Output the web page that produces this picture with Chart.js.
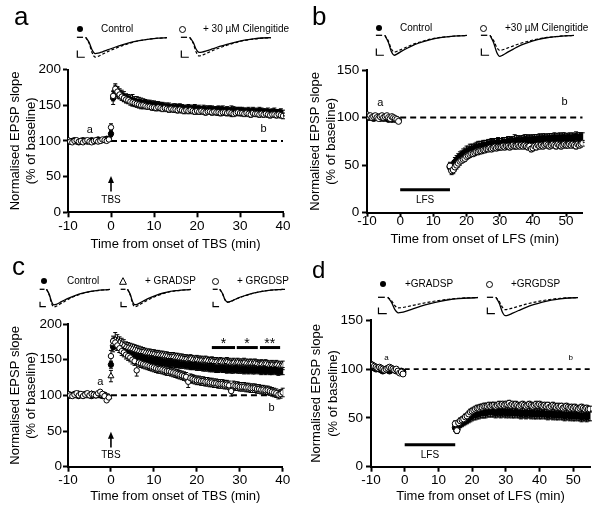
<!DOCTYPE html>
<html>
<head>
<meta charset="utf-8">
<script src="https://cdn.jsdelivr.net/npm/chart.js@4.4.0/dist/chart.umd.min.js"></script>
<style>
  body { margin: 0; background: #fff; }
  #fig { position: relative; width: 600px; height: 511px; overflow: hidden; background: #fff; font-family: "Liberation Sans", Arial, sans-serif; color: #000; }
  #fig canvas { position: absolute; }
  .t { position: absolute; white-space: nowrap; font-size: 10px; line-height: 10px; }
  .big { position: absolute; font-size: 26px; line-height: 26px; }
  .dot { position: absolute; width: 6px; height: 6px; border-radius: 50%; background: #000; }
  .ring { position: absolute; width: 5px; height: 5px; border-radius: 50%; border: 1px solid #000; background: #fff; }
</style>
</head>
<body>
<div id="fig">
  <canvas id="cA" width="300" height="255" style="left:0;top:0"></canvas>
  <canvas id="cB" width="300" height="255" style="left:300px;top:0"></canvas>
  <canvas id="cC" width="300" height="256" style="left:0;top:255px"></canvas>
  <canvas id="cD" width="300" height="256" style="left:300px;top:255px"></canvas>

  <canvas id="trA1" width="91" height="30" style="left:76px;top:31.5px"></canvas>
  <canvas id="trA2" width="91" height="30" style="left:180px;top:31.5px"></canvas>
  <canvas id="trB1" width="92" height="30" style="left:375px;top:30px"></canvas>
  <canvas id="trB2" width="94" height="30" style="left:480px;top:30px"></canvas>
  <canvas id="trC1" width="71" height="30" style="left:38.6px;top:284px"></canvas>
  <canvas id="trC2" width="71" height="30" style="left:120.3px;top:284px"></canvas>
  <canvas id="trC3" width="73" height="30" style="left:211.6px;top:284px"></canvas>
  <canvas id="trD1" width="101" height="30" style="left:377px;top:292.4px"></canvas>
  <canvas id="trD2" width="92" height="30" style="left:485.8px;top:292.4px"></canvas>

  <div class="big" style="left:14px;top:3px">a</div>
  <div class="big" style="left:312px;top:3px">b</div>
  <div class="big" style="left:12px;top:253px">c</div>
  <div class="big" style="left:312px;top:258px;font-size:24px;line-height:24px">d</div>

  <div class="dot" style="left:77px;top:25.5px"></div>
  <div class="t" style="left:101px;top:23.6px">Control</div>
  <div class="ring" style="left:178.7px;top:25.5px"></div>
  <div class="t" style="left:203px;top:23.6px">+ 30 µM Cilengitide</div>

  <div class="dot" style="left:376.3px;top:25.3px"></div>
  <div class="t" style="left:400px;top:23.4px">Control</div>
  <div class="ring" style="left:479.7px;top:25.3px"></div>
  <div class="t" style="left:505px;top:23.4px">+30 µM Cilengitide</div>

  <div class="dot" style="left:41.3px;top:277.7px"></div>
  <div class="t" style="left:67px;top:275.8px">Control</div>
  <svg style="position:absolute;left:118.7px;top:276.7px" width="8" height="8"><polygon points="4,0.7 7.4,7.3 0.6,7.3" fill="#fff" stroke="#000" stroke-width="1"/></svg>
  <div class="t" style="left:145px;top:275.8px">+ GRADSP</div>
  <div class="ring" style="left:212px;top:277.7px"></div>
  <div class="t" style="left:237px;top:275.8px">+ GRGDSP</div>

  <div class="dot" style="left:380.3px;top:281.3px"></div>
  <div class="t" style="left:405px;top:279.4px">+GRADSP</div>
  <div class="ring" style="left:486.3px;top:281.3px"></div>
  <div class="t" style="left:511px;top:279.4px">+GRGDSP</div>
</div>

<script>
// ---- sampling times (min) ----
const baseT = [-10,-9.5,-9,-8.5,-8,-7.5,-7,-6.5,-6,-5.5,-5,-4.5,-4,-3.5,-3,-2.5,-2,-1.5,-1,-0.5];
const tbsT = [0,
  0.5,1,1.5,2,2.5,3,3.5,4,4.5,5,5.5,6,6.5,7,7.5,8,8.5,9,9.5,10,
  10.5,11,11.5,12,12.5,13,13.5,14,14.5,15,
  15.5,16,16.5,17,17.5,18,18.5,19,19.5,20,
  20.5,21,21.5,22,22.5,23,23.5,24,24.5,25,
  25.5,26,26.5,27,27.5,28,28.5,29,29.5,30,
  30.5,31,31.5,32,32.5,33,33.5,34,34.5,35,
  35.5,36,36.5,37,37.5,38,38.5,39,39.5,40];
const lfsT = [15,15.5,16,16.5,17,17.5,18,18.5,19,19.5,20,
  20.5,21,21.5,22,22.5,23,23.5,24,24.5,25,
  25.5,26,26.5,27,27.5,28,28.5,29,29.5,30,
  30.5,31,31.5,32,32.5,33,33.5,34,34.5,35,
  35.5,36,36.5,37,37.5,38,38.5,39,39.5,40,
  40.5,41,41.5,42,42.5,43,43.5,44,44.5,45,
  45.5,46,46.5,47,47.5,48,48.5,49,49.5,50,
  50.5,51,51.5,52,52.5,53,53.5,54,54.5,55];

// tick labels
const xTicksTBS = [-10, 0, 10, 20, 30, 40];
const xTicksLFS = [-10, 0, 10, 20, 30, 40, 50];

// ---- panel a: TBS, control vs cilengitide ----
const ctrlA_base = [100,99,100,101,99,98,100,101,100,99,100,101,99,100,102,100,101,102,103,103];
const cilA_base = [101,99,98,100,101,99,100,98,100,101,99,98,100,101,99,100,102,101,100,102];
const ctrlA_post = [110,
  160,170,168,166,164,162,160,159,158,157,
  156,155,155,154,153,153,152,152,151,151,
  150,150,149,149,148,148,148,147,147,147,
  146,147,146,146,145,146,145,145,146,145,
  145,144,145,144,144,145,144,143,144,144,
  143,144,143,143,142,143,143,142,143,142,
  142,142,141,142,141,142,141,141,142,141,
  141,140,141,140,140,141,140,139,140,139];
const semCtrlA = [4,
  9,8,8,7,7,7,6,6,6,8,
  6,7,6,6,6,5,5,5,5,5,
  5,5,5,5,5,5,5,4,5,5,
  5,5,5,4,5,5,5,5,5,4,
  5,4,5,5,5,4,5,5,4,5,
  5,5,4,5,5,6,5,5,4,5,
  5,4,5,5,4,5,5,4,5,5,
  4,5,5,4,5,5,4,5,5,4];
const cilA_post = [119,
  163,173,169,165,162,160,158,157,155,154,
  153,152,151,150,150,149,148,148,147,147,
  146,147,146,145,146,145,144,145,144,144,
  143,144,143,142,143,142,143,142,141,142,
  141,142,141,140,141,141,140,141,140,140,
  139,140,140,139,140,139,138,139,140,139,
  139,138,139,138,137,139,138,138,137,138,
  137,138,137,136,137,137,136,137,136,135];
const semCilA = [5,
  7,7,6,6,5,5,5,5,5,5,
  5,5,5,5,5,4,4,4,4,4,
  4,4,4,4,4,4,4,4,4,4,
  4,4,4,4,4,4,4,4,4,4,
  4,4,4,4,4,4,4,4,4,4,
  4,4,4,4,4,5,4,4,4,4,
  4,4,4,4,4,4,4,4,4,4,
  4,4,4,4,4,4,4,4,4,4];

// ---- panel b: LFS, control vs cilengitide ----
const ctrlB_base = [101,100,101,100,99,100,101,100,99,100,99,100,99,98,99,98,99,98,98,97];
const cilB_base = [103,101,102,100,101,102,100,99,101,102,100,101,102,100,99,101,100,99,98,96];
const ctrlB_post = [48,47,50,53,55,57,59,60,62,63,64,
  65,66,67,67,68,69,69,70,70,71,
  71,71,72,72,73,72,73,73,74,73,
  73,74,74,74,75,75,74,75,75,76,
  76,75,76,76,77,77,76,77,76,77,
  77,77,77,78,77,78,78,77,78,78,
  78,78,79,78,78,79,78,79,79,78,
  79,79,78,79,79,80,79,79,80,79];
const semCtrlB = [4,4,4,5,5,5,5,5,5,5,6,
  5,6,5,5,5,5,6,5,5,5,
  5,5,5,5,5,5,5,5,5,5,
  5,5,5,5,5,5,5,5,7,5,
  5,5,5,5,5,5,5,5,5,5,
  5,5,5,5,5,5,5,5,5,5,
  5,5,5,5,5,5,5,5,5,5,
  4,5,5,5,4,5,5,5,4,5];
const cilB_post = [49,44,45,48,50,52,54,55,56,57,59,
  60,61,62,62,63,64,64,65,65,66,
  66,67,67,68,67,68,69,68,69,69,
  69,70,69,70,70,69,70,71,70,70,
  71,70,71,70,71,70,69,70,67,68,
  70,69,71,70,71,70,71,72,71,70,
  71,72,71,70,72,71,70,71,72,71,
  71,72,71,72,71,70,72,71,72,73];
const semCilB = [4,4,4,4,4,4,4,3,3,3,3,
  3,3,3,3,3,3,3,3,3,3,
  3,3,3,3,3,3,3,3,3,3,
  3,3,3,3,3,3,3,3,3,3,
  3,3,3,3,3,3,3,3,3,3,
  3,3,3,3,3,3,3,3,3,3,
  3,3,3,3,3,3,3,3,3,3,
  3,3,3,3,3,3,3,3,3,3];

// ---- panel c: TBS, control / GRADSP / GRGDSP ----
const ctrlC_base = [99,101,100,102,100,99,101,100,102,101,100,99,101,100,102,100,99,101,98,97];
const gradC_base = [101,100,99,101,100,102,101,100,99,101,100,102,101,99,100,101,100,98,99,98];
const grgdC_base = [102,100,99,101,103,100,102,99,101,103,100,102,101,100,103,105,102,99,93,97];
const ctrlC_post = [143,
  168,171,169,166,164,162,160,158,157,156,
  155,154,153,152,152,151,150,150,149,149,
  148,148,147,147,146,146,145,145,145,144,
  144,143,143,143,142,142,141,141,141,140,
  140,140,139,139,139,138,138,138,137,137,
  138,137,137,136,137,136,136,137,136,136,
  136,135,136,135,136,135,135,136,135,134,
  135,134,135,134,134,135,134,133,134,134];
const semCtrlC = [5,
  7,6,6,6,5,5,5,5,5,5,
  5,5,5,5,5,5,5,5,5,5,
  5,5,5,5,4,5,5,5,5,5,
  5,5,5,5,5,5,5,5,5,5,
  5,5,5,5,5,5,5,5,5,5,
  5,5,5,5,5,5,5,5,5,5,
  5,5,5,5,5,5,5,5,5,5,
  5,5,5,5,5,5,5,5,5,5];
const gradC_post = [127,
  172,178,176,174,172,170,168,167,166,165,
  164,163,162,161,161,160,159,159,158,158,
  157,157,156,156,155,155,154,154,154,153,
  153,152,152,151,151,150,151,150,149,150,
  149,149,148,149,148,147,148,147,147,146,
  147,146,146,147,146,145,146,145,146,145,
  145,146,145,144,145,144,145,144,143,144,
  143,144,143,142,143,142,143,142,141,142];
const semGradC = [8,
  8,10,9,8,8,8,7,7,7,7,
  7,7,7,7,6,6,6,6,6,6,
  6,6,6,6,6,6,6,6,6,6,
  6,6,6,6,6,6,6,6,6,6,
  6,6,6,6,6,6,6,6,6,6,
  6,6,6,6,6,6,6,6,6,6,
  6,6,6,6,6,6,6,6,6,6,
  6,6,6,6,6,6,6,6,6,6];
const grgdC_post = [155,
  176,174,170,166,162,160,157,155,153,150,
  148,135,146,145,144,143,142,141,140,139,
  138,137,137,136,135,134,134,133,132,131,
  130,129,128,127,126,119,124,123,122,121,
  121,120,120,119,119,118,118,117,117,116,
  116,116,115,115,114,106,114,113,113,112,
  112,112,111,111,110,110,110,109,109,108,
  108,107,107,106,105,104,103,101,102,104];
const semGrgdC = [8,
  7,7,7,6,6,6,6,6,6,6,
  6,8,6,6,6,6,6,6,6,6,
  6,6,6,6,6,6,6,6,6,6,
  6,6,6,6,6,8,6,6,6,6,
  6,6,6,6,6,6,6,6,6,6,
  6,6,6,6,6,7,6,6,6,6,
  6,6,6,6,6,6,6,6,6,6,
  6,6,6,6,6,6,6,6,6,6];

// ---- panel d: LFS, GRADSP vs GRGDSP ----
const gradD_base = [103,102,101,100,101,100,99,98,99,100,99,98,99,100,99,98,98,97,98,97];
const grgdD_base = [105,104,103,102,101,102,101,100,99,100,101,102,101,100,99,100,98,96,97,95];
const gradD_post = [40,38,42,44,45,46,47,48,50,51,52,
  53,53,54,54,55,55,55,55,56,56,
  56,56,56,55,56,56,55,56,56,55,
  56,55,56,55,55,56,55,55,54,55,
  55,54,55,55,54,55,54,54,55,54,
  54,55,54,54,53,54,54,53,54,53,
  53,54,53,53,52,53,53,52,53,52,
  52,53,52,52,51,52,52,51,52,52];
const semGradD = [4,4,4,4,4,4,4,4,5,5,5,
  5,5,5,5,5,5,5,5,5,5,
  5,5,5,5,5,5,5,5,5,5,
  5,5,5,5,5,5,5,5,5,5,
  5,5,5,5,5,5,5,5,5,5,
  5,5,5,5,5,5,5,5,5,5,
  5,5,5,5,5,5,5,5,5,5,
  5,5,5,5,5,5,5,5,5,5];
const grgdD_post = [44,37,45,47,48,49,51,52,54,56,57,
  58,59,60,60,61,61,62,62,62,63,
  62,63,63,62,63,64,63,64,63,64,
  64,65,63,64,63,64,63,62,63,64,
  63,62,63,64,63,62,63,64,63,64,
  63,62,63,62,63,61,62,63,62,61,
  62,61,62,60,61,62,61,60,61,60,
  61,60,59,60,61,60,59,60,59,59];
const semGrgdD = [3,3,3,3,3,3,3,3,3,3,3,
  3,3,3,3,3,3,3,3,3,3,
  3,3,3,3,3,3,3,3,3,3,
  3,3,3,3,3,3,3,3,3,3,
  3,3,3,3,3,3,3,3,3,3,
  3,3,3,3,3,3,3,3,3,3,
  3,3,3,3,3,3,3,3,3,3,
  3,3,3,3,3,3,3,3,3,3];

// baseline reference (dashed)
const refTbsT = [0, 40];
const refLfsT = [0, 55];
const refV = [100, 100];

// ---- example EPSP traces (ms, mV) ----
const traceT = [3.3,4.5,5.5,6.5,7.5,9,11,13.5,16,19,22,25,28,31];
const stimT = [0.3, 2.4];
const stimV = [0, 0];
const barT = [0.45, 0.45, 3.0];
const barVA = [-0.75, -1.13, -1.13];
const barVC = [-0.7, -0.98, -0.98];
const barVD = [-0.58, -0.92, -0.92];
const trA1 = {pre: [0,-0.3,-0.72,-0.92,-0.9,-0.82,-0.7,-0.55,-0.42,-0.28,-0.17,-0.1,-0.05,-0.02],
              post: [0,-0.36,-0.88,-1.12,-1.08,-0.96,-0.8,-0.62,-0.46,-0.3,-0.18,-0.1,-0.05,-0.02]};
const trA2 = {pre: [0,-0.28,-0.68,-0.86,-0.84,-0.77,-0.66,-0.52,-0.4,-0.27,-0.16,-0.09,-0.04,-0.02],
              post: [0,-0.34,-0.84,-1.06,-1.02,-0.91,-0.76,-0.6,-0.45,-0.3,-0.18,-0.1,-0.05,-0.02]};
const trB1 = {pre: [0,-0.4,-0.92,-1.13,-1.05,-0.9,-0.72,-0.52,-0.37,-0.23,-0.13,-0.07,-0.03,-0.01],
              post: [0,-0.33,-0.76,-0.95,-0.9,-0.79,-0.64,-0.47,-0.34,-0.21,-0.12,-0.07,-0.03,-0.01]};
const trB2 = {pre: [0,-0.42,-0.96,-1.19,-1.12,-0.97,-0.78,-0.56,-0.4,-0.25,-0.14,-0.08,-0.03,-0.01],
              post: [0,-0.3,-0.68,-0.85,-0.82,-0.73,-0.6,-0.45,-0.33,-0.21,-0.12,-0.07,-0.03,-0.01]};
const trC1 = {pre: [0,-0.3,-0.7,-0.88,-0.86,-0.76,-0.62,-0.47,-0.34,-0.22,-0.13,-0.07,-0.03,-0.01],
              post: [0,-0.34,-0.8,-1.0,-0.96,-0.85,-0.7,-0.52,-0.38,-0.24,-0.14,-0.08,-0.04,-0.02]};
const trC2 = {pre: [0,-0.3,-0.7,-0.87,-0.85,-0.75,-0.61,-0.46,-0.33,-0.21,-0.12,-0.07,-0.03,-0.01],
              post: [0,-0.34,-0.8,-0.99,-0.95,-0.84,-0.69,-0.52,-0.38,-0.24,-0.14,-0.08,-0.04,-0.02]};
const trC3 = {pre: [0,-0.25,-0.58,-0.72,-0.7,-0.62,-0.5,-0.38,-0.28,-0.18,-0.1,-0.05,-0.02,0],
              post: [0,-0.26,-0.6,-0.74,-0.72,-0.63,-0.51,-0.39,-0.28,-0.18,-0.1,-0.05,-0.02,0]};
const trD1 = {pre: [0,-0.3,-0.7,-0.88,-0.86,-0.78,-0.65,-0.5,-0.37,-0.24,-0.14,-0.08,-0.04,-0.02],
              post: [0,-0.2,-0.48,-0.6,-0.59,-0.54,-0.46,-0.36,-0.27,-0.18,-0.11,-0.06,-0.03,-0.01]};
const trD2 = {pre: [0,-0.35,-0.83,-1.04,-1.01,-0.9,-0.75,-0.57,-0.42,-0.27,-0.16,-0.09,-0.04,-0.02],
              post: [0,-0.24,-0.56,-0.7,-0.68,-0.61,-0.51,-0.39,-0.29,-0.19,-0.11,-0.06,-0.03,-0.01]};

// ------------------------------------------------------------------
const FONT = '"Liberation Sans", Arial, sans-serif';
Chart.defaults.font.family = FONT;
Chart.defaults.color = '#000';

const pts = (ts, vs) => ts.map((t, i) => ({x: t, y: vs[i]}));

// vertical SEM bars, drawn under the symbols
const errorBars = {
  id: 'errorBars',
  beforeDatasetsDraw(chart) {
    const {ctx} = chart;
    const x = chart.scales.x, y = chart.scales.y;
    ctx.save();
    ctx.strokeStyle = '#000';
    ctx.lineWidth = 1;
    chart.data.datasets.forEach(ds => {
      if (!ds.sem) return;
      ds.data.forEach((p, i) => {
        const e = ds.sem[i - ds.semOffset];
        if (!e) return;
        const px = x.getPixelForValue(p.x);
        const lo = y.getPixelForValue(p.y - e), hi = y.getPixelForValue(p.y + e);
        ctx.beginPath();
        ctx.moveTo(px, lo); ctx.lineTo(px, hi);
        ctx.moveTo(px - 2, lo); ctx.lineTo(px + 2, lo);
        ctx.moveTo(px - 2, hi); ctx.lineTo(px + 2, hi);
        ctx.stroke();
      });
    });
    ctx.restore();
  }
};

// arrows, bars and small labels placed in data coordinates
const marks = {
  id: 'marks',
  afterDatasetsDraw(chart, args, opts) {
    const {ctx} = chart;
    const x = chart.scales.x, y = chart.scales.y;
    ctx.save();
    ctx.fillStyle = '#000';
    ctx.strokeStyle = '#000';
    (opts.bars || []).forEach(b => {
      ctx.lineWidth = 3;
      ctx.beginPath();
      ctx.moveTo(x.getPixelForValue(b.x0), y.getPixelForValue(b.y));
      ctx.lineTo(x.getPixelForValue(b.x1), y.getPixelForValue(b.y));
      ctx.stroke();
    });
    (opts.arrows || []).forEach(a => {
      const px = x.getPixelForValue(a.x), p0 = y.getPixelForValue(a.y0), p1 = y.getPixelForValue(a.y1);
      ctx.lineWidth = 1.6;
      ctx.beginPath(); ctx.moveTo(px, p0); ctx.lineTo(px, p1 + 5); ctx.stroke();
      ctx.beginPath(); ctx.moveTo(px, p1); ctx.lineTo(px - 3, p1 + 7); ctx.lineTo(px + 3, p1 + 7); ctx.closePath(); ctx.fill();
    });
    (opts.texts || []).forEach(t => {
      ctx.font = t.font || ('11px ' + FONT);
      ctx.textAlign = 'center';
      ctx.textBaseline = t.base || 'middle';
      ctx.fillText(t.text, x.getPixelForValue(t.x), y.getPixelForValue(t.y));
    });
    ctx.restore();
  }
};

function series(base, post, postT, sem, style, order) {
  return Object.assign({
    type: 'scatter',
    data: pts(baseT, base).concat(pts(postT, post)),
    sem: sem, semOffset: base.length,
    pointRadius: 2.7, pointBorderWidth: 1, pointBorderColor: '#000',
    order: order
  }, style);
}
const filled = {pointBackgroundColor: '#000'};
const open = {pointBackgroundColor: '#fff'};
const tri = {pointBackgroundColor: '#fff', pointStyle: 'triangle', pointRadius: 3.4};

function refLine(ts, width, dash) {
  return {type: 'line', data: pts(ts, refV), borderColor: '#000', borderWidth: width,
          borderDash: dash, pointRadius: 0, order: 10};
}

function mainChart(id, o) {
  const axisGrid = len => ({display: true, drawOnChartArea: false, drawTicks: true,
                            tickLength: len, tickWidth: 2, tickColor: '#000', color: '#000'});
  return new Chart(document.getElementById(id), {
    type: 'scatter',
    data: {datasets: o.datasets},
    options: {
      responsive: false,
      animation: false,
      layout: {padding: o.pad},
      plugins: {legend: {display: false}, tooltip: {enabled: false}, marks: o.marks},
      scales: {
        x: {
          type: 'linear', min: -10, max: o.xmax,
          afterFit: s => { s.height = o.xh; },
          afterBuildTicks: s => { s.ticks = o.xticks.map(v => ({value: v})); },
          ticks: {color: '#000', padding: o.xtp, maxRotation: 0, autoSkip: false,
                  font: {size: 13.5, lineHeight: 1.2}},
          grid: axisGrid(o.xtl),
          border: {display: true, color: '#000', width: 2},
          title: {display: true, text: o.xtitle, color: '#000', font: {size: 13, lineHeight: 1.2},
                  padding: {top: 0, bottom: o.xtitlePad}}
        },
        y: {
          min: 0, max: o.ymax,
          afterFit: s => { s.width = o.yw; },
          ticks: {stepSize: 50, color: '#000', padding: o.ytp, font: {size: 13.5, lineHeight: 1.2}},
          grid: axisGrid(5),
          border: {display: true, color: '#000', width: 2},
          title: {display: true, text: ['Normalised EPSP slope', '(% of baseline)'], color: '#000',
                  font: {size: 13, lineHeight: 1.3}, padding: {top: o.ytitlePad, bottom: 0}}
        }
      }
    },
    plugins: [errorBars, marks]
  });
}

mainChart('cA', {
  xmax: 40, ymax: 200, xticks: xTicksTBS, pad: {left: 0, top: 69.5, right: 17, bottom: 0}, yw: 68, xh: 42.7,
  xtl: 5, xtp: 1.3, ytp: 2, xtitlePad: 3.2, ytitlePad: 6.5,
  xtitle: 'Time from onset of TBS (min)',
  datasets: [
    refLine(refTbsT, 2, [6, 4]),
    series(ctrlA_base, ctrlA_post, tbsT, semCtrlA, filled, 2),
    series(cilA_base, cilA_post, tbsT, semCilA, open, 1)
  ],
  marks: {
    arrows: [{x: 0, y0: 29, y1: 51}],
    texts: [{x: 0, y: 17, text: 'TBS', font: '10px ' + FONT},
            {x: -4.9, y: 116, text: 'a'}, {x: 35.5, y: 117, text: 'b'}]
  }
});

mainChart('cB', {
  xmax: 55, ymax: 150, xticks: xTicksLFS, pad: {left: 0, top: 70, right: 17.3, bottom: 0}, yw: 67, xh: 42.3,
  xtl: 4, xtp: -3.5, ytp: 2.7, xtitlePad: 7.5, ytitlePad: 6.5,
  xtitle: 'Time from onset of LFS (min)',
  datasets: [
    refLine(refLfsT, 2, [6, 4]),
    series(ctrlB_base, ctrlB_post, lfsT, semCtrlB, Object.assign({pointRadius: 3}, filled), 2),
    series(cilB_base, cilB_post, lfsT, semCilB, Object.assign({pointRadius: 3}, open), 1)
  ],
  marks: {
    bars: [{x0: 0, x1: 15, y: 24}],
    texts: [{x: 7.5, y: 13.4, text: 'LFS', font: '10px ' + FONT},
            {x: -6, y: 115, text: 'a'}, {x: 49.5, y: 116, text: 'b'}]
  }
});

mainChart('cC', {
  xmax: 40, ymax: 200, xticks: xTicksTBS, pad: {left: 0, top: 69, right: 17.3, bottom: 0}, yw: 68, xh: 44.3,
  xtl: 5, xtp: 0.9, ytp: 1, xtitlePad: 6.5, ytitlePad: 6.5,
  xtitle: 'Time from onset of TBS (min)',
  datasets: [
    refLine(refTbsT, 2, [6, 4]),
    series(ctrlC_base, ctrlC_post, tbsT, semCtrlC, filled, 3),
    series(gradC_base, gradC_post, tbsT, semGradC, tri, 2),
    series(grgdC_base, grgdC_post, tbsT, semGrgdC, open, 1)
  ],
  marks: {
    arrows: [{x: 0, y0: 27, y1: 49}],
    bars: [{x0: 23.5, x1: 28.9, y: 167}, {x0: 29.3, x1: 34.2, y: 167}, {x0: 34.7, x1: 39.4, y: 167}],
    texts: [{x: 0, y: 15.4, text: 'TBS', font: '10px ' + FONT},
            {x: -2.5, y: 119, text: 'a'}, {x: 37.4, y: 83, text: 'b'},
            {x: 26.2, y: 166, text: '*', font: '14px ' + FONT, base: 'alphabetic'},
            {x: 31.7, y: 166, text: '*', font: '14px ' + FONT, base: 'alphabetic'},
            {x: 37, y: 166, text: '**', font: '14px ' + FONT, base: 'alphabetic'}]
  }
});

mainChart('cD', {
  xmax: 55, ymax: 150, xticks: xTicksLFS, pad: {left: 0, top: 65.3, right: 10, bottom: 0}, yw: 71, xh: 44.3,
  xtl: 5, xtp: 0.9, ytp: 3, xtitlePad: 6.5, ytitlePad: 8.2,
  xtitle: 'Time from onset of LFS (min)',
  datasets: [
    refLine(refLfsT, 1.8, [5, 4]),
    series(gradD_base, gradD_post, lfsT, semGradD, Object.assign({pointRadius: 3}, filled), 2),
    series(grgdD_base, grgdD_post, lfsT, semGrgdD, Object.assign({pointRadius: 3}, open), 1)
  ],
  marks: {
    bars: [{x0: 0, x1: 15, y: 22.5}],
    texts: [{x: 7.5, y: 11.3, text: 'LFS', font: '10px ' + FONT},
            {x: -5.4, y: 112, text: 'a', font: '8px ' + FONT},
            {x: 49.3, y: 112, text: 'b', font: '8px ' + FONT}]
  }
});

// ---- small EPSP traces above each panel ----
function traceChart(id, tr, barV) {
  return new Chart(document.getElementById(id), {
    type: 'line',
    data: {datasets: [
      {data: pts(traceT, tr.pre), borderColor: '#000', borderWidth: 1.3, cubicInterpolationMode: 'monotone'},
      {data: pts(traceT, tr.post), borderColor: '#000', borderWidth: 1.2, borderDash: [3, 2], cubicInterpolationMode: 'monotone'},
      {data: pts(stimT, stimV), borderColor: '#000', borderWidth: 1.3},
      {data: pts(barT, barV), borderColor: '#000', borderWidth: 1.2}
    ]},
    options: {
      responsive: false, animation: false,
      layout: {padding: 0},
      elements: {point: {radius: 0}},
      plugins: {legend: {display: false}, tooltip: {enabled: false}},
      scales: {
        x: {type: 'linear', display: false, min: 0, max: 31},
        y: {display: false, min: -1.4, max: 0.3}
      }
    }
  });
}
traceChart('trA1', trA1, barVA);
traceChart('trA2', trA2, barVA);
traceChart('trB1', trB1, barVA);
traceChart('trB2', trB2, barVA);
traceChart('trC1', trC1, barVC);
traceChart('trC2', trC2, barVC);
traceChart('trC3', trC3, barVC);
traceChart('trD1', trD1, barVD);
traceChart('trD2', trD2, barVD);
</script>
</body>
</html>
